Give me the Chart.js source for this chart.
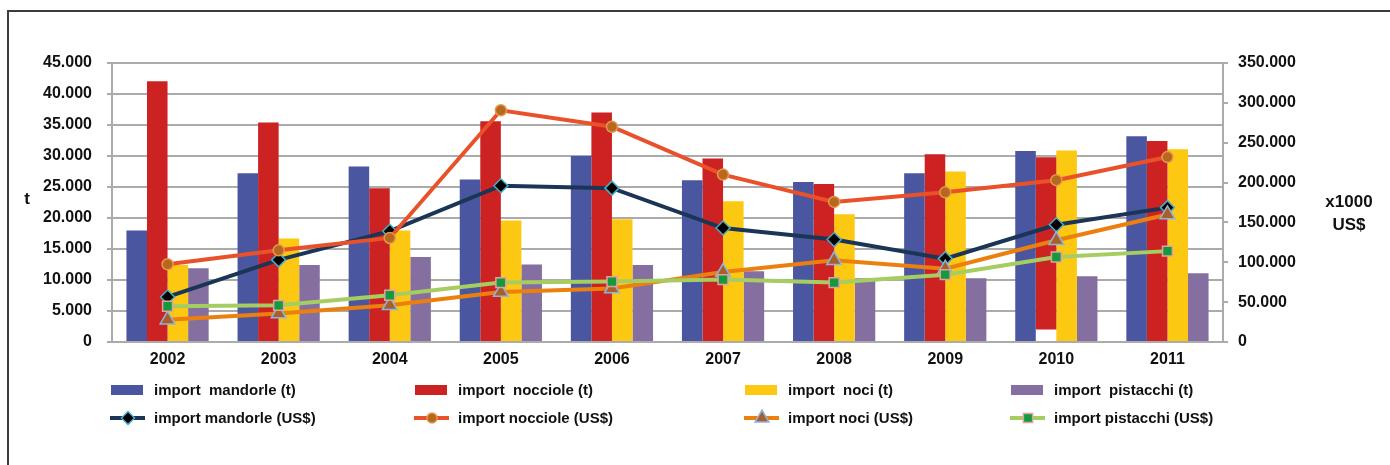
<!DOCTYPE html>
<html>
<head>
<meta charset="utf-8">
<script src="https://cdnjs.cloudflare.com/ajax/libs/Chart.js/4.4.1/chart.umd.min.js"></script>
<style>
    body { margin: 0; background: #fff; }
    #wrap { position: relative; width: 1390px; height: 465px; }
    #frame { position: absolute; left: 7px; top: 10px; right: -10px; bottom: -10px;
             border-left: 2px solid #3c3c3c; border-top: 2px solid #3c3c3c; }
    #importChart { position: absolute; left: 0; top: 0; }
</style>
</head>
<body>

<div id="wrap">
    <div id="frame"></div>
    <canvas id="importChart" width="1390" height="465"></canvas>
</div>

<script>

    // years on the x axis
    let years = ["2002", "2003", "2004", "2005", "2006", "2007", "2008", "2009", "2010", "2011"];

    // imports in tonnes (left axis)
    let mandorleT  = [18000, 27200, 28300, 26200, 30000, 26100, 25800, 27200, 30800, 33200];
    // the 2010 hazelnut bar does not start at zero in the original
    let noccioleT  = [42050, 35400, 24800, 35600, 37000, 29600, 25500, 30300, [2000, 29800], 32400];
    let nociT      = [12400, 16700, 18000, 19600, 19800, 22700, 20600, 27500, 30900, 31100];
    let pistacchiT = [11900, 12400, 13700, 12500, 12400, 11400, 10300, 10300, 10600, 11100];

    // imports in x1000 US$ (right axis)
    let mandorleUS  = [56500, 103000, 139000, 196000, 193000, 143000, 128500, 104600, 147000, 168600];
    let noccioleUS  = [97500, 115000, 130500, 290700, 270000, 210000, 175700, 187800, 203000, 232000];
    let nociUS      = [28000, 35600, 46000, 62700, 67000, 87800, 102500, 92000, 127600, 160000];
    let pistacchiUS = [44800, 46000, 58600, 74500, 75800, 78300, 74500, 84500, 106700, 114000];

    let font = "'Liberation Sans', Arial, sans-serif";
    let gridColor = "#ababab";

    // italian thousands separator
    function fmt(v) {
        return v.toString().replace(/\B(?=(\d{3})+(?!\d))/g, ".");
    }

    function bar(label, data, color) {
        return {
            type: "bar", label: label, data: data, yAxisID: "y",
            backgroundColor: color, borderWidth: 0, order: 10,
            categoryPercentage: 0.74, barPercentage: 1.0
        };
    }

    function line(label, data, color, style, radius, fill, border, order) {
        return {
            type: "line", label: label, data: data, yAxisID: "y1",
            borderColor: color, borderWidth: 4, tension: 0, fill: false,
            pointStyle: style, pointRadius: radius, pointBackgroundColor: fill,
            pointBorderColor: border, pointBorderWidth: 1.5, order: order
        };
    }

    let datasets = [
        bar("import  mandorle (t)", mandorleT, "#4a57a0"),
        bar("import  nocciole (t)", noccioleT, "#cc2222"),
        bar("import  noci (t)", nociT, "#fdc811"),
        bar("import  pistacchi (t)", pistacchiT, "#856ea0"),
        line("import mandorle (US$)", mandorleUS, "#1a3556", "rectRot", 7, "#000000", "#4bacc6", 4),
        line("import nocciole (US$)", noccioleUS, "#e8512a", "circle", 5.5, "#b8671e", "#e39a4e", 3),
        line("import noci (US$)", nociUS, "#ec800f", "triangle", 8.5, "#a85f28", "#8db3e2", 2),
        line("import pistacchi (US$)", pistacchiUS, "#a6cd62", "rect", 7, "#129a3c", "#e2a0a0", 1)
    ];

    // axis titles drawn horizontally like the original
    const axisTitles = {
        id: "axisTitles",
        afterDraw(chart) {
            let ctx = chart.ctx;
            ctx.save();
            ctx.fillStyle = "#111";
            ctx.font = "bold 17px " + font;
            ctx.textAlign = "center";
            ctx.textBaseline = "middle";
            ctx.fillText("t", 27, 199);
            ctx.fillText("x1000", 1349, 202);
            ctx.fillText("US$", 1349, 225);
            ctx.restore();
        }
    };

    // legend in a 4 x 2 grid
    const gridLegend = {
        id: "gridLegend",
        afterDraw(chart) {
            let ctx = chart.ctx;
            let cols = [111, 415, 745, 1011];
            let rows = [390, 418];
            ctx.save();
            chart.data.datasets.forEach(function (ds, i) {
                let x = cols[i % 4];
                let y = rows[Math.floor(i / 4)];
                if (ds.type === "bar") {
                    ctx.fillStyle = ds.backgroundColor;
                    ctx.fillRect(x, y - 5, 32, 10);
                } else {
                    ctx.strokeStyle = ds.borderColor;
                    ctx.lineWidth = 4;
                    ctx.beginPath();
                    ctx.moveTo(x - 1, y);
                    ctx.lineTo(x + 34, y);
                    ctx.stroke();
                    ctx.fillStyle = ds.pointBackgroundColor;
                    ctx.strokeStyle = ds.pointBorderColor;
                    ctx.lineWidth = ds.pointBorderWidth;
                    Chart.helpers.drawPoint(ctx, {
                        pointStyle: ds.pointStyle, rotation: 0,
                        radius: ds.pointRadius - 0.5, borderWidth: ds.pointBorderWidth
                    }, x + 17, y);
                }
                ctx.fillStyle = "#111";
                ctx.font = "bold 15px " + font;
                ctx.textAlign = "left";
                ctx.textBaseline = "middle";
                ctx.fillText(ds.label, x + 43, y + 1);
            });
            ctx.restore();
        }
    };

    new Chart("importChart", {
        data: { labels: years, datasets: datasets },
        plugins: [axisTitles, gridLegend],
        options: {
            responsive: false,
            animation: false,
            layout: { padding: { top: 63, left: 0, right: 0, bottom: 0 } },
            plugins: {
                legend: { display: false },
                tooltip: { enabled: false }
            },
            scales: {
                x: {
                    grid: { display: false },
                    border: { display: false },
                    ticks: { color: "#111", font: { family: font, size: 16, weight: "bold" }, padding: 0 },
                    afterFit(scale) { scale.height = 123; }
                },
                y: {
                    position: "left",
                    min: 0, max: 45000,
                    grid: { color: gridColor, lineWidth: 2, tickLength: 5 },
                    border: { color: gridColor, width: 2 },
                    ticks: {
                        stepSize: 5000, padding: 15, color: "#111",
                        font: { family: font, size: 16, weight: "bold" },
                        callback: function (v) { return fmt(v); }
                    },
                    afterFit(scale) { scale.width = 112; }
                },
                y1: {
                    position: "right",
                    min: 0, max: 350000,
                    grid: { drawOnChartArea: false, color: gridColor, lineWidth: 2, tickLength: 5 },
                    border: { color: gridColor, width: 2 },
                    ticks: {
                        stepSize: 50000, padding: 10, color: "#111",
                        font: { family: font, size: 16, weight: "bold" },
                        callback: function (v) { return fmt(v); }
                    },
                    afterFit(scale) { scale.width = 167; }
                }
            }
        }
    });

</script>
</body>
</html>
